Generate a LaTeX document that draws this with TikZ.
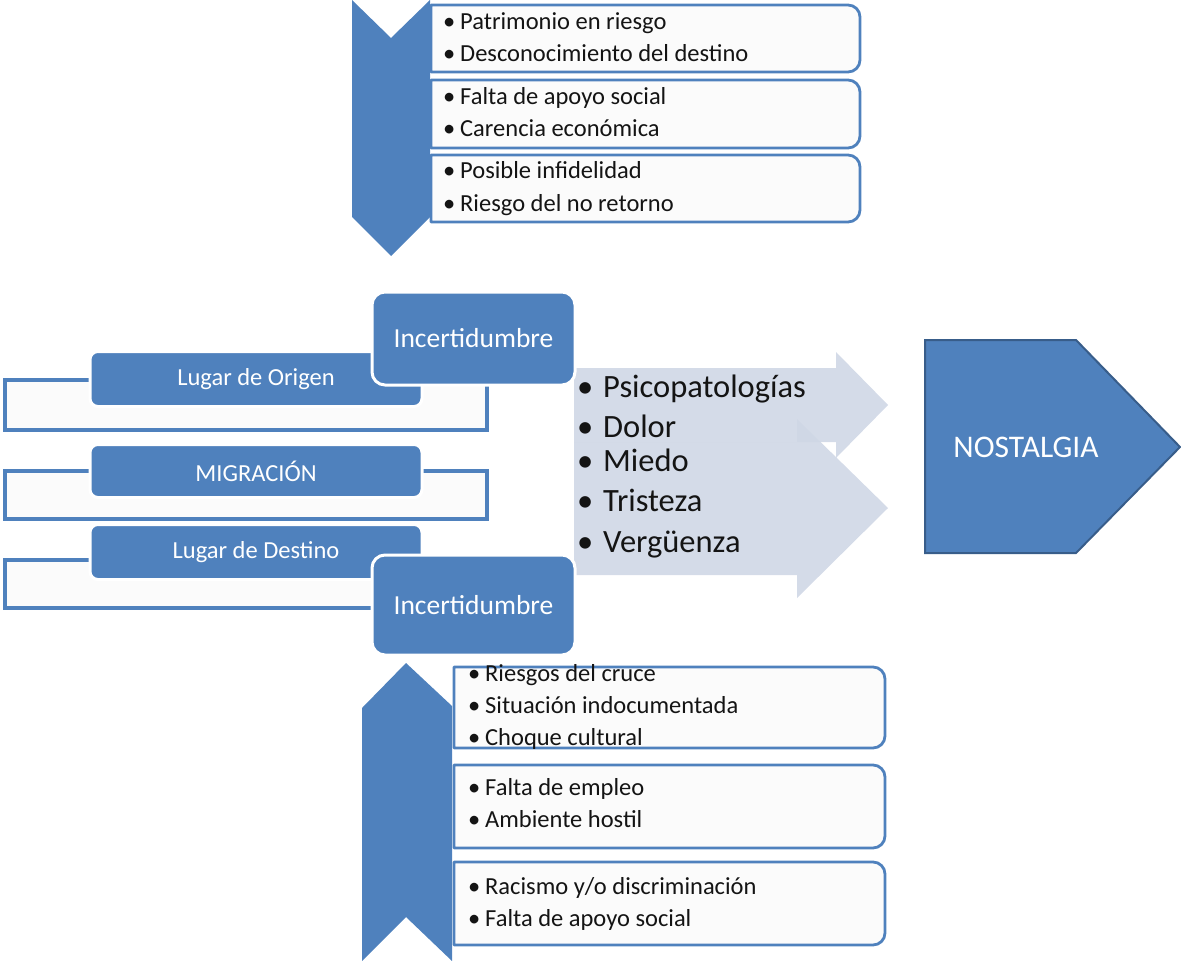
\documentclass[tikz,border=0pt]{standalone}
\usepackage{fontspec}
\setmainfont{Carlito}
\definecolor{accent}{HTML}{4F81BD}
\definecolor{accentdark}{HTML}{385D8A}
\definecolor{pale}{HTML}{CFD7E5}
\definecolor{ink}{HTML}{141414}
\definecolor{paper}{HTML}{FBFBFB}

\tikzset{
  listframe/.style={draw=accent, line width=2.8pt, fill=paper, line join=round},
  chevronshape/.style={fill=accent, draw=none},
  bracket/.style={draw=accent, line width=3.2pt, fill=paper},
  bluebox/.style={fill=accent, draw=white, line width=3pt, rounded corners=8pt,
    text=white, font=\fontsize{24.5}{28}\selectfont, inner sep=0pt},
  incbox/.style={fill=accent, draw=white, line width=3pt, rounded corners=13pt,
    text=white, font=\fontsize{27.5}{32}\selectfont, inner sep=0pt},
  paleshape/.style={fill=pale, fill opacity=0.9, draw=none},
  listtext/.style={anchor=base west, inner sep=0pt, text=ink,
    font=\fontsize{24.5}{30}\selectfont},
  bigtext/.style={anchor=base west, inner sep=0pt, text=ink,
    font=\fontsize{32.5}{38}\selectfont},
}

% frame whose right-hand corners are rounded (left edge sits against a chevron)
\newcommand\rightroundframe[4]{%
  \draw[listframe] (#1,#2) -- ({#3-12},#2)
    arc[start angle=-90, end angle=0, radius=12] -- (#3,{#4-12})
    arc[start angle=0, end angle=90, radius=12] -- (#1,#4) -- cycle;}

\newcommand\bl[1]{\makebox[17pt][l]{\textbullet}#1}
\newcommand\blb[1]{\makebox[17pt][l]{\textbullet}#1}
\newcommand\blc[1]{\makebox[26pt][l]{\textbullet}#1}

\begin{document}
\begin{tikzpicture}[x=1pt, y=-1pt]
\useasboundingbox (0,0) rectangle (1181,961);

% ---------- upper list: origin factors ----------
\rightroundframe{431}{5}{860}{72}
\rightroundframe{431}{80}{860}{148}
\rightroundframe{431}{155}{860}{222}
\fill[chevronshape] (352,0) -- (391,38) -- (430,0) -- (430,217)
  -- (391,256) -- (352,217) -- cycle;

\node[listtext] (o1) at (443,29)  {\bl{Patrimonio en riesgo}};
\node[listtext] (o2) at (443,61)  {\bl{Desconocimiento del destino}};
\node[listtext] (o3) at (443,104) {\bl{Falta de apoyo social}};
\node[listtext] (o4) at (443,136) {\bl{Carencia económica}};
\node[listtext] (o5) at (443,178) {\bl{Posible infidelidad}};
\node[listtext] (o6) at (443,211) {\bl{Riesgo del no retorno}};

% ---------- lower list: destination factors ----------
\rightroundframe{454}{667}{885}{748}
\rightroundframe{454}{765}{885}{848}
\rightroundframe{454}{862}{885}{945}
\fill[chevronshape] (362,708) -- (406,663) -- (452,706) -- (452,961)
  -- (406,917) -- (362,961) -- cycle;

\node[listtext] (d1) at (468,681) {\blb{Riesgos del cruce}};
\node[listtext] (d2) at (468,713) {\blb{Situación indocumentada}};
\node[listtext] (d3) at (468,745) {\blb{Choque cultural}};
\node[listtext] (d4) at (468,795) {\blb{Falta de empleo}};
\node[listtext] (d5) at (468,827) {\blb{Ambiente hostil}};
\node[listtext] (d6) at (468,894) {\blb{Racismo y/o discriminación}};
\node[listtext] (d7) at (468,926) {\blb{Falta de apoyo social}};

% ---------- emotional consequences (pale arrows) ----------
\fill[paleshape] (574,368) -- (836,368) -- (836,352) -- (888,405)
  -- (836,458) -- (836,442) -- (574,442) -- cycle;
\fill[paleshape] (574,442) -- (797,442) -- (797,419) -- (888,508)
  -- (797,598) -- (797,575) -- (574,575) -- cycle;

\node[bigtext] (e1) at (577,397) {\blc{Psicopatologías}};
\node[bigtext] (e2) at (577,437) {\blc{Dolor}};
\node[bigtext] (e3) at (577,471) {\blc{Miedo}};
\node[bigtext] (e4) at (577,511) {\blc{Tristeza}};
\node[bigtext] (e5) at (577,552) {\blc{Vergüenza}};

% ---------- stages of migration ----------
\draw[bracket] (5,380) rectangle (487,430);
\node[bluebox, minimum width=332pt, minimum height=55pt] (origen) at (256,379) {Lugar de Origen};

\draw[bracket] (5,471) rectangle (487,519);
\node[bluebox, minimum width=332pt, minimum height=53pt] (migracion) at (256,471) {MIGRACIÓN};

\draw[bracket] (5,560) rectangle (487,608);
\node[bluebox, minimum width=332pt, minimum height=55pt] (destino) at (256,552) {Lugar de Destino};

\node[incbox, minimum width=203pt, minimum height=93pt] (inc1) at (473.5,338.5) {Incertidumbre};
\node[incbox, minimum width=203pt, minimum height=100pt] (inc2) at (473.5,605) {Incertidumbre};

% ---------- outcome ----------
\draw[fill=accent, draw=accentdark, line width=2pt, line join=miter]
  (925,340) -- (1076,340) -- (1180,447) -- (1076,553) -- (925,553) -- cycle;
\node[text=white, font=\fontsize{31.5}{36}\selectfont, inner sep=0pt] (nostalgia) at (1026,447) {NOSTALGIA};
\end{tikzpicture}
\end{document}
